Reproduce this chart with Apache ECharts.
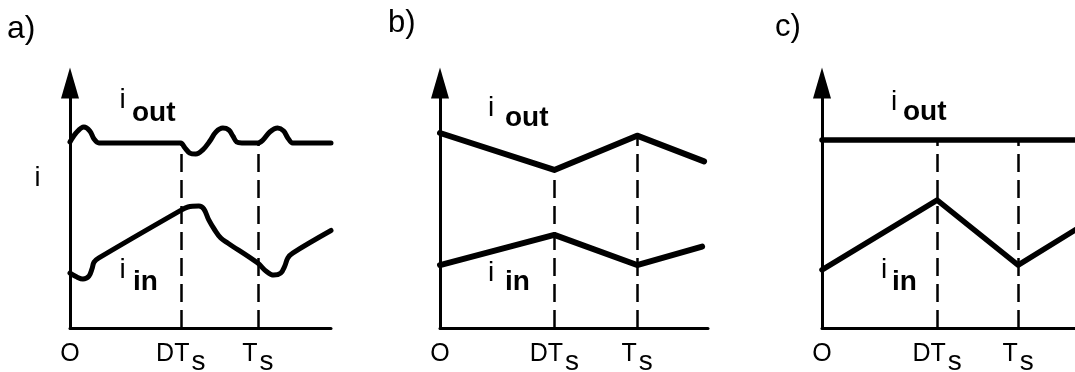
<!DOCTYPE html>
<html>
<head>
<meta charset="utf-8">
<script src="https://cdn.jsdelivr.net/npm/echarts@6/dist/echarts.min.js"></script>
<style>
  html, body { margin: 0; padding: 0; background: #fff; }
  #chart { width: 1075px; height: 372px; }
</style>
</head>
<body>
<div id="chart"></div>
<script>
// Time is measured so that one switching period Ts = 100; current is in arbitrary units (0-100).

// Tick positions on the time axis: origin, DTs, Ts
const ticksA = [0, 59, 100];
const ticksB = [0, 58, 100];
const ticksC = [0, 58.7, 100];
// Tick label text: main part and subscript
const tickLabels = [['O', ''], ['DT', 's'], ['T', 's']];

const xMaxA = 139;
const xMaxB = 136;
const xMaxC = 129;

// a) output current with ringing at every switching edge
const ioutA = [
  [0, 75.9], [3.2, 79.6], [7.4, 82.0], [10.6, 80.4], [12.8, 77.1], [15.4, 75.5],
  [18.6, 75.5], [56.4, 75.5], [59, 75.5], [61.2, 73.5], [63.8, 71.4], [67, 71.0],
  [70.7, 72.7], [74.5, 76.3], [77.7, 80.0], [81.4, 81.6], [84.6, 80.8], [86.7, 78.4],
  [88.8, 75.9], [91.5, 75.5], [100, 75.5], [102.7, 76.7], [106.4, 80.0], [110.6, 81.6],
  [113.8, 80.4], [116, 77.6], [118.6, 75.5], [122.3, 75.5], [139, 75.5]
];
// a) input current
const iinA = [
  [0, 22.4], [3.7, 20.8], [6.9, 20.0], [10.1, 21.2], [11.7, 24.1], [12.8, 26.9],
  [15.4, 28.6], [58.5, 47.8], [62.8, 49.4], [68.6, 49.8], [71.3, 48.6], [73.9, 44.1],
  [77.1, 40.0], [80.3, 36.7], [84, 34.7], [100, 26.5], [104.3, 23.3], [108.5, 21.6],
  [112.2, 22.4], [114.4, 25.3], [116, 28.6], [118.6, 30.6], [139, 39.8]
];

// b) triangular output and input currents
const ioutB = [[0, 79.6], [58, 64.5], [100, 78.5], [134, 68]];
const iinB = [[0, 25.7], [58, 38], [100, 25.7], [133, 33.2]];

// c) constant output current, triangular input current
const ioutC = [[0, 76.7], [58.7, 76.7], [100, 76.7], [129, 76.7]];
const iinC = [[0, 23.7], [58.7, 52.2], [100, 25.7], [129, 40]];

const panelTitles = ['a)', 'b)', 'c)'];
const seriesNames = ['i', 'out', 'in'];

const FONT = '"Liberation Sans", Arial, sans-serif';

const panels = [
  { iout: ioutA, iin: iinA, ticks: ticksA, xMax: xMaxA, smooth: 0.35, lw: 5, left: 70, width: 261 },
  { iout: ioutB, iin: iinB, ticks: ticksB, xMax: xMaxB, smooth: false, lw: 6, left: 440, width: 268 },
  { iout: ioutC, iin: iinC, ticks: ticksC, xMax: xMaxC, smooth: false, lw: 5.5, left: 822, width: 253 }
];

const grids = [], xAxes = [], yAxes = [], series = [];

panels.forEach(function (p, k) {
  grids.push({ left: p.left, top: 83, width: p.width, height: 245, containLabel: false, outerBoundsMode: 'none' });

  xAxes.push({
    type: 'value', gridIndex: k, min: 0, max: p.xMax,
    axisLine: { show: true, lineStyle: { color: '#000', width: 3 } },
    axisTick: { show: false },
    splitLine: { show: false },
    axisLabel: {
      customValues: p.ticks,
      margin: 14,
      formatter: function (v) {
        const t = tickLabels[p.ticks.indexOf(v)];
        if (!t) return '';
        return '{m|' + t[0] + '}' + (t[1] ? '{s|' + t[1] + '}' : '');
      },
      rich: {
        m: { fontFamily: FONT, fontSize: 25, color: '#000', lineHeight: 25, verticalAlign: 'top' },
        s: { fontFamily: FONT, fontSize: 28, color: '#000', lineHeight: 25, verticalAlign: 'top', padding: [6, 0, 0, 2] }
      }
    }
  });

  yAxes.push({
    type: 'value', gridIndex: k, min: 0, max: 100,
    axisLine: { show: true, symbol: ['none', 'triangle'], symbolSize: [18, 31], lineStyle: { color: '#000', width: 3 } },
    axisTick: { show: false },
    axisLabel: { show: false },
    splitLine: { show: false }
  });

  // dashed guides from the time axis up to the output current at DTs and Ts
  const guides = p.ticks.slice(1).map(function (t) {
    const top = p.iout.find(function (pt) { return pt[0] === t; })[1];
    return [{ coord: [t, 0] }, { coord: [t, top] }];
  });

  series.push({
    name: 'i_out', type: 'line', xAxisIndex: k, yAxisIndex: k,
    data: p.iout, smooth: p.smooth, showSymbol: false, clip: false, silent: true,
    lineStyle: { color: '#000', width: p.lw, cap: 'round', join: 'round' },
    z: 3
  });
  series.push({
    name: 'i_in', type: 'line', xAxisIndex: k, yAxisIndex: k,
    data: p.iin, smooth: p.smooth, showSymbol: false, clip: false, silent: true,
    lineStyle: { color: '#000', width: p.lw, cap: 'round', join: 'round' },
    z: 3,
    markLine: {
      silent: true, symbol: ['none', 'none'], animation: false,
      label: { show: false },
      lineStyle: { color: '#000', width: 2.5, type: [18, 8] },
      data: guides
    }
  });
});

function txt(x, y, s, size, opts) {
  opts = opts || {};
  return {
    type: 'text', x: x, y: y, silent: true,
    style: {
      text: s, fill: '#000',
      font: (opts.weight || 'normal') + ' ' + size + 'px ' + FONT,
      align: opts.align || 'left', verticalAlign: 'middle'
    }
  };
}

const graphics = [
  txt(7, 29, panelTitles[0], 32),
  txt(388, 23, panelTitles[1], 31),
  txt(775, 27, panelTitles[2], 31),
  // vertical axis name
  txt(37.5, 178.5, seriesNames[0], 27, { align: 'center' }),
  // a) curve names
  txt(122.5, 100, seriesNames[0], 28, { align: 'center' }),
  txt(132, 113, seriesNames[1], 28, { weight: 'bold' }),
  txt(122.5, 270, seriesNames[0], 28, { align: 'center' }),
  txt(133, 282, seriesNames[2], 28, { weight: 'bold' }),
  // b) curve names
  txt(491, 108, seriesNames[0], 28, { align: 'center' }),
  txt(505, 118, seriesNames[1], 28, { weight: 'bold' }),
  txt(491, 273, seriesNames[0], 28, { align: 'center' }),
  txt(505, 282, seriesNames[2], 28, { weight: 'bold' }),
  // c) curve names
  txt(894, 102, seriesNames[0], 28, { align: 'center' }),
  txt(903, 112, seriesNames[1], 28, { weight: 'bold' }),
  txt(884, 270, seriesNames[0], 28, { align: 'center' }),
  txt(892, 282, seriesNames[2], 28, { weight: 'bold' })
];

const chart = echarts.init(document.getElementById('chart'), null, { renderer: 'canvas' });
chart.setOption({
  animation: false,
  backgroundColor: '#fff',
  grid: grids,
  xAxis: xAxes,
  yAxis: yAxes,
  series: series,
  graphic: graphics
});
</script>
</body>
</html>
